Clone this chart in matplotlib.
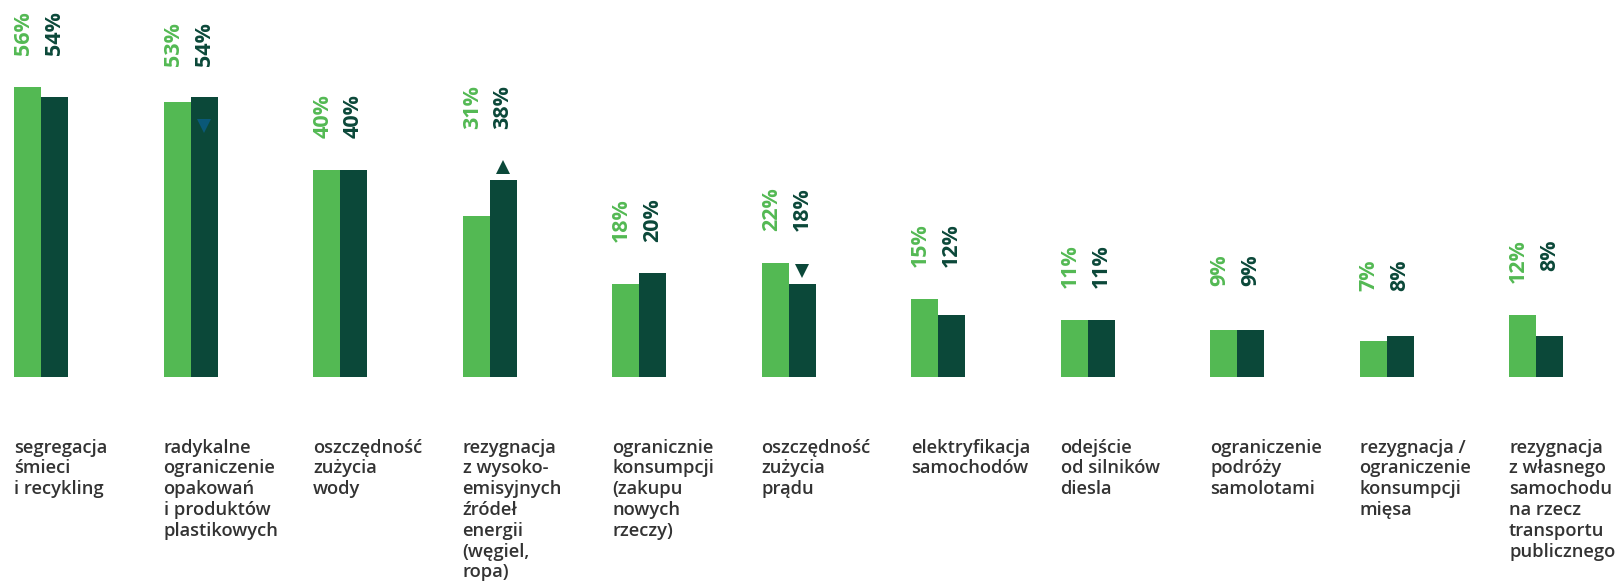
import matplotlib
matplotlib.use("Agg")
import matplotlib.pyplot as plt

categories = [
    "segregacja\nśmieci\ni recykling",
    "radykalne\nograniczenie\nopakowań\ni produktów\nplastikowych",
    "oszczędność\nzużycia\nwody",
    "rezygnacja\nz wysoko-\nemisyjnych\nźródeł\nenergii\n(węgiel,\nropa)",
    "ogranicznie\nkonsumpcji\n(zakupu\nnowych\nrzeczy)",
    "oszczędność\nzużycia\nprądu",
    "elektryfikacja\nsamochodów",
    "odejście\nod silników\ndiesla",
    "ograniczenie\npodróży\nsamolotami",
    "rezygnacja /\nograniczenie\nkonsumpcji\nmięsa",
    "rezygnacja\nz własnego\nsamochodu\nna rzecz\ntransportu\npublicznego",
]
series_a = [56, 53, 40, 31, 18, 22, 15, 11, 9, 7, 12]
series_b = [54, 54, 40, 38, 20, 18, 12, 11, 9, 8, 8]
trend = [None, "down_in", None, "up", None, "down", None, None, None, None, None]

LIGHT = "#53b953"
DARK = "#0b4839"
BLUE = "#0a5878"
TEXT = "#333333"

W, H = 1617, 584
fig = plt.figure(figsize=(W / 100, H / 100), dpi=100)
ax = fig.add_axes([0, 0, 1, 1])

px_per_unit = 5.18
base_px = 377
group_px = 149.5
left_px = 14
bw = 27 / group_px

ax.set_ylim(-(H - base_px) / px_per_unit, base_px / px_per_unit)
ax.set_xlim(-left_px / group_px, (W - left_px) / group_px)
ax.axis("off")

xs = list(range(len(categories)))
ax.bar(xs, series_a, width=bw, align="edge", color=LIGHT, linewidth=0)
ax.bar([x + bw for x in xs], series_b, width=bw, align="edge", color=DARK, linewidth=0)

font = "Open Sans"
for i, (a, b, t) in enumerate(zip(series_a, series_b, trend)):
    top = max(a, b)
    cx = i + 1.5 * bw
    if t == "up":
        ax.plot(cx, b + 2.5, marker="^", ms=9.5, color=DARK, mew=0)
        top = max(top, b + 3.7)
    elif t == "down":
        ax.plot(cx, b + 2.5, marker="v", ms=9.5, color=DARK, mew=0)
        top = max(top, b + 3.7)
    elif t == "down_in":
        ax.plot(cx, b - 5.5, marker="v", ms=9.5, color=BLUE, mew=0)
    ly = top + 14.6
    ax.text(i + 0.5 * bw - 0.025, ly, f"{a}%", rotation=90, ha="center", va="top",
            color=LIGHT, fontsize=15.5, fontweight="bold", family=font)
    ax.text(i + 1.5 * bw, ly, f"{b}%", rotation=90, ha="center", va="top",
            color=DARK, fontsize=15.5, fontweight="bold", family=font)
    ax.text(i, -11.9, categories[i], ha="left", va="top", color=TEXT,
            fontsize=13.2, fontweight="semibold", family=font, linespacing=1.2)

fig.savefig("out.png", dpi=100)
